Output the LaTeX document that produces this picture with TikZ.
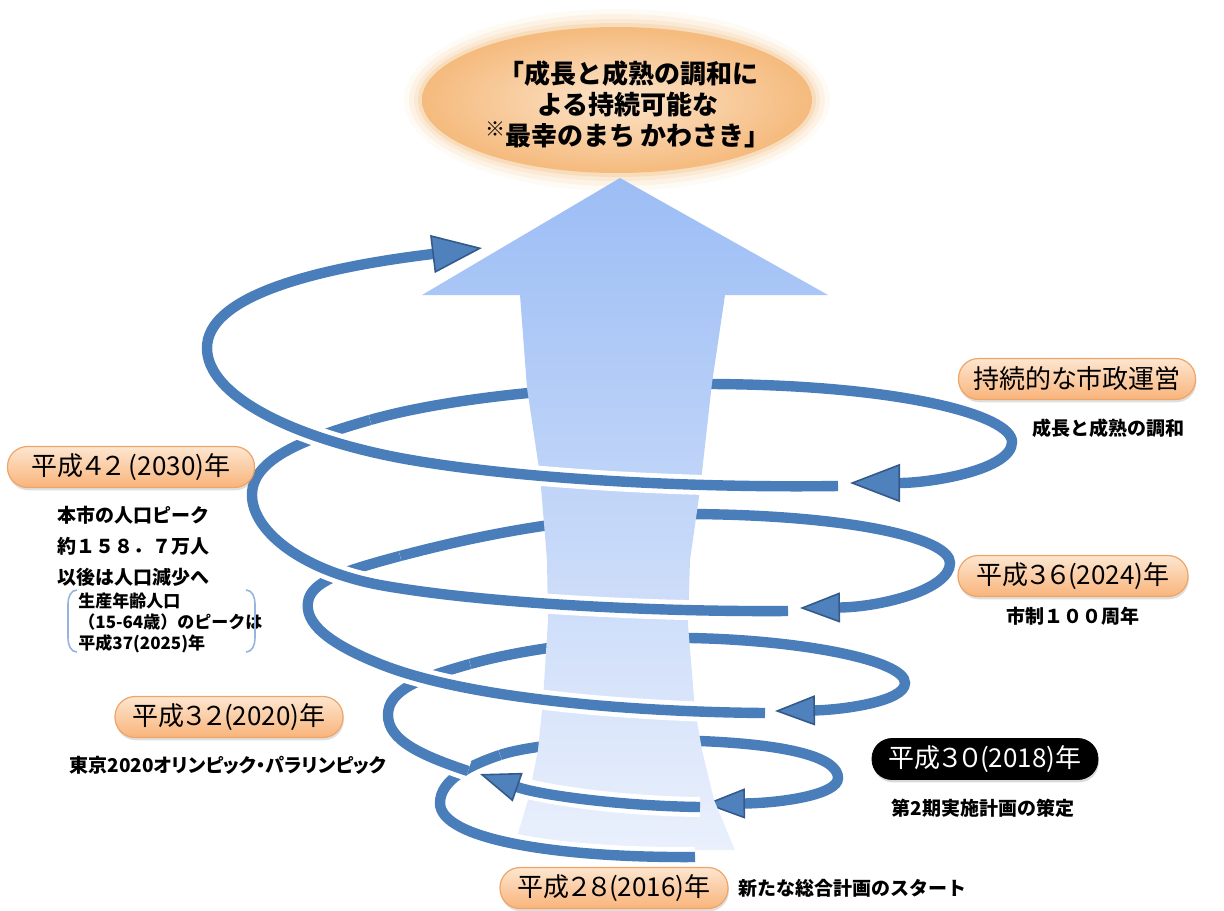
\documentclass[tikz,border=0pt]{standalone}
\usepackage{fontspec}
\setmainfont{Noto Sans CJK JP}
\newfontfamily\palfont{Noto Sans CJK JP}[RawFeature=+palt]
\usepackage{tikz}
\usetikzlibrary{arrows.meta}
\usetikzlibrary{shadows}
\usetikzlibrary{positioning}

\definecolor{spiral}{RGB}{74,126,187}
\definecolor{spiraltip}{RGB}{79,129,189}
\definecolor{spiraledge}{RGB}{52,90,140}
\definecolor{arrowtop}{RGB}{156,189,245}
\definecolor{arrowbot}{RGB}{234,240,252}
\definecolor{pilltop}{RGB}{253,230,208}
\definecolor{pillbot}{RGB}{249,180,122}
\definecolor{pilledge}{RGB}{238,165,105}
\definecolor{ovalin}{RGB}{252,228,202}
\definecolor{ovalout}{RGB}{245,186,125}
\definecolor{glow}{RGB}{240,178,105}
\definecolor{bracketc}{RGB}{150,180,222}

\begin{document}
\begin{tikzpicture}[x=0.5pt,y=0.5pt,
    strand/.style={draw=spiral,line width=5.2pt},
    halo/.style={draw=white,line width=10pt},
    tipsmall/.style={-{Triangle[length=20pt,width=15pt,color=spiraledge,fill=spiraltip,line width=0.8pt]}},
    tipbig/.style={-{Triangle[length=25pt,width=19pt,color=spiraledge,fill=spiraltip,line width=0.8pt]}},
    pill/.style={rounded corners=10pt,top color=pilltop,bottom color=pillbot,draw=pilledge,line width=0.6pt,
        minimum height=20.5pt,inner sep=0pt,font=\palfont\fontsize{13}{14}\selectfont,
        drop shadow={opacity=0.25,shadow xshift=0.4pt,shadow yshift=-1.4pt}},
    blackpill/.style={rounded corners=10pt,fill=black,draw=black,text=white,
        minimum height=20.5pt,inner sep=0pt,font=\palfont\fontsize{13}{14}\selectfont,
        drop shadow={opacity=0.3,shadow xshift=0.4pt,shadow yshift=-1.4pt}},
    note/.style={font=\bfseries\fontsize{9.5}{15.5}\selectfont,align=center,inner sep=0pt},
    subnote/.style={font=\bfseries\fontsize{8.5}{10.5}\selectfont,align=left,inner sep=0pt},
    goaltext/.style={font=\bfseries\fontsize{13}{15.5}\selectfont,align=center,inner sep=0pt}]
\useasboundingbox (0,0) rectangle (1224,-910);

% Define the big arrow outline.
\def\shaft{(620,-178) -- (828,-295) -- (725,-295) -- (712,-383) -- (700,-490) -- (690,-560)
    -- (688,-625) -- (695,-710) -- (702,-750) -- (714,-800) -- (735,-850) -- (513,-850)
    -- (528,-800) -- (538,-750) -- (543,-700) -- (548,-620) -- (547,-560) -- (540,-475)
    -- (527,-388) -- (520,-295) -- (422,-295) -- cycle}

% Define the spiral pieces (back = behind the arrow, front = in front of it).
\def\aback{(500,-755) .. controls (530,-745) and (600,-738) .. (700,-741) .. controls (800,-745) and (838,-760) .. (838,-778) .. controls (838,-795) and (780,-803) .. (705,-804)}
\def\afront{(695,-857) .. controls (560,-858) and (440,-840) .. (440,-803) .. controls (440,-780) and (470,-765) .. (500,-755)}
\def\bfront{(700,-807) .. controls (620,-806) and (540,-795) .. (480,-774)}
\def\cfront{(468,-771) .. controls (420,-755) and (388,-740) .. (388,-715) .. controls (388,-690) and (420,-678) .. (470,-664)}
\def\cback{(470,-664) .. controls (520,-650) and (600,-638) .. (690,-638) .. controls (800,-640) and (905,-660) .. (905,-683) .. controls (905,-702) and (840,-710) .. (775,-711)}
\def\dfront{(765,-713) .. controls (640,-712) and (470,-700) .. (380,-664) .. controls (325,-642) and (305,-622) .. (308,-602) .. controls (311,-582) and (340,-572) .. (400,-556)}
\def\dback{(400,-556) .. controls (450,-543) and (560,-515) .. (690,-514) .. controls (850,-515) and (950,-538) .. (950,-563) .. controls (950,-590) and (880,-607) .. (800,-608)}
\def\efront{(788,-611) .. controls (650,-612) and (480,-603) .. (380,-585) .. controls (300,-570) and (252,-530) .. (252,-495) .. controls (252,-460) and (300,-440) .. (370,-420)}
\def\eback{(370,-420) .. controls (440,-400) and (560,-385) .. (712,-384) .. controls (900,-385) and (1012,-415) .. (1012,-442) .. controls (1012,-470) and (930,-483) .. (850,-483)}
\def\ffront{(838,-486) .. controls (700,-488) and (520,-480) .. (400,-458) .. controls (290,-437) and (207,-395) .. (207,-348) .. controls (207,-300) and (300,-270) .. (482,-248)}

% GOAL oval with glow
\foreach \g/\o in {18/0.07,13/0.10,8/0.15,4/0.22}
    \fill[glow,opacity=\o] (617,-100) ellipse ({195+\g} and {73+\g});
\shade[inner color=ovalin,outer color=ovalout] (617,-100) ellipse (195 and 73);
\node[goaltext] (goal) at (628,-104) {「成長と成熟の調和に\\よる持続可能な\\{\fontsize{10}{10}\selectfont\raisebox{0.45em}{※}}最幸のまち かわさき」};

% BACK pieces of the spiral
\draw[strand,tipsmall] \aback;
\draw[strand,tipsmall] \cback;
\draw[strand,tipsmall] \dback;
\draw[strand,tipbig] \eback;

% ARROW
\shade[top color=arrowtop,bottom color=arrowbot] \shaft;

% FRONT pieces of the spiral
\draw[halo] \afront;
\draw[strand] \afront;
\draw[halo,shorten >=12pt] \bfront;
\draw[strand,tipsmall] \bfront;
\draw[halo] \cfront;
\draw[strand] \cfront;
\draw[halo] \dfront;
\draw[strand] \dfront;
\draw[halo] \efront;
\draw[strand] \efront;
\draw[halo,shorten >=14pt] \ffront;
\draw[strand,tipbig] \ffront;

% Labels, right side
\node[pill,minimum width=118.5pt] (prun) at (1077,-379) {持続的な市政運営};
\node[note] (nrun) at (1108,-428) {成長と成熟の調和};
\node[pill,minimum width=115pt] (p36) at (1073,-576) {平成３６(2024)年};
\node[note] (n36) at (1073,-616) {市制１００周年};
\node[blackpill,minimum width=113pt] (p30) at (985,-759) {平成３０(2018)年};
\node[note] (n30) at (983,-808) {第2期実施計画の策定};

% Labels, left side
\node[pill,minimum width=123.5pt] (p42) at (131,-467) {平成４２ (2030)年};
\node[note] (n42) at (133,-546) {本市の人口ピーク\\約１５８．７万人\\以後は人口減少へ};
\node[subnote,anchor=west] (n37) at (78,-623) {生産年齢人口\\（15-64歳）のピークは\\平成37(2025)年};
\draw[bracketc,line width=0.8pt] (77,-590) to[out=180,in=90] (68,-604) -- (68,-638) to[out=-90,in=180] (77,-652);
\draw[bracketc,line width=0.8pt] (246,-590) to[out=0,in=90] (255,-604) -- (255,-638) to[out=-90,in=0] (246,-652);
\node[pill,minimum width=114pt] (p32) at (229,-717) {平成３２(2020)年};
\node[note,font=\palfont\bfseries\fontsize{9.5}{12}\selectfont] (n32) at (228,-765) {東京2020オリンピック・パラリンピック};

% Start
\node[pill,minimum width=114pt] (p28) at (614,-888) {平成２８(2016)年};
\node[note,right=4.5pt of p28] (n28) {新たな総合計画のスタート};

\end{tikzpicture}
\end{document}
